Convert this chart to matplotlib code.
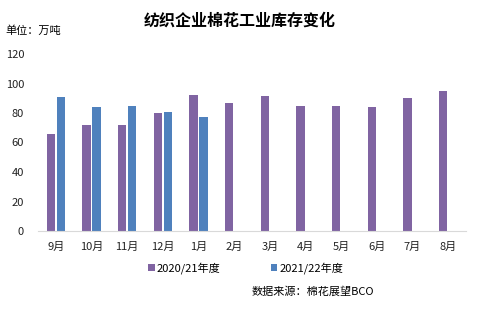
import numpy as np
import matplotlib
matplotlib.use("Agg")
import matplotlib.pyplot as plt

plt.rcParams['font.family'] = ['Noto Sans CJK SC', 'DejaVu Sans']

# Monthly mill cotton stocks, 10k tonnes
months = ["9月", "10月", "11月", "12月", "1月", "2月", "3月", "4月", "5月", "6月", "7月", "8月"]
season_2020 = [65.5, 72, 72, 80, 92, 87, 91.5, 85, 85, 84, 90.5, 95]
season_2021 = [91, 84, 84.5, 81, 77]
series_names = ["2020/21年度", "2021/22年度"]

PURPLE = "#8064A2"
BLUE = "#4F81BD"

fig = plt.figure(figsize=(4.8, 3.22), dpi=100)
ax = fig.add_axes([38 / 480, (322 - 231) / 322, 428 / 480, (231 - 54) / 322])

x = np.arange(len(months))
w = 0.23
off = 0.14
ax.bar(x - off, season_2020, width=w, color=PURPLE, label=series_names[0])
ax.bar(x[:len(season_2021)] + off, season_2021, width=w, color=BLUE, label=series_names[1])

ax.set_xlim(-0.5, len(months) - 0.5)
ax.set_ylim(0, 120)
ax.set_yticks(range(0, 121, 20))
ax.set_xticks(x)
ax.set_xticklabels(months)
ax.tick_params(axis='both', length=0, labelsize=8, colors="#222222")
ax.tick_params(axis='x', pad=8)
ax.tick_params(axis='y', pad=10)
for side in ["left", "right", "top"]:
    ax.spines[side].set_visible(False)
ax.spines["bottom"].set_color("#d9d9d9")

fig.text(0.5, 0.935, "纺织企业棉花工业库存变化", ha="center", va="center",
         fontsize=11.5, fontweight="bold")
fig.text(5 / 480, 0.905, "单位：万吨", ha="left", va="center", fontsize=8)

fig.legend(loc="center", bbox_to_anchor=(0.512, (322 - 268) / 322), ncol=2,
           frameon=False, fontsize=8, handlelength=0.6, handleheight=0.6,
           handletextpad=0.2, columnspacing=4.5)
fig.text(252 / 480, (322 - 292) / 322, "数据来源：棉花展望BCO", ha="left",
         va="center", fontsize=8)

fig.savefig("out.png", dpi=100)
